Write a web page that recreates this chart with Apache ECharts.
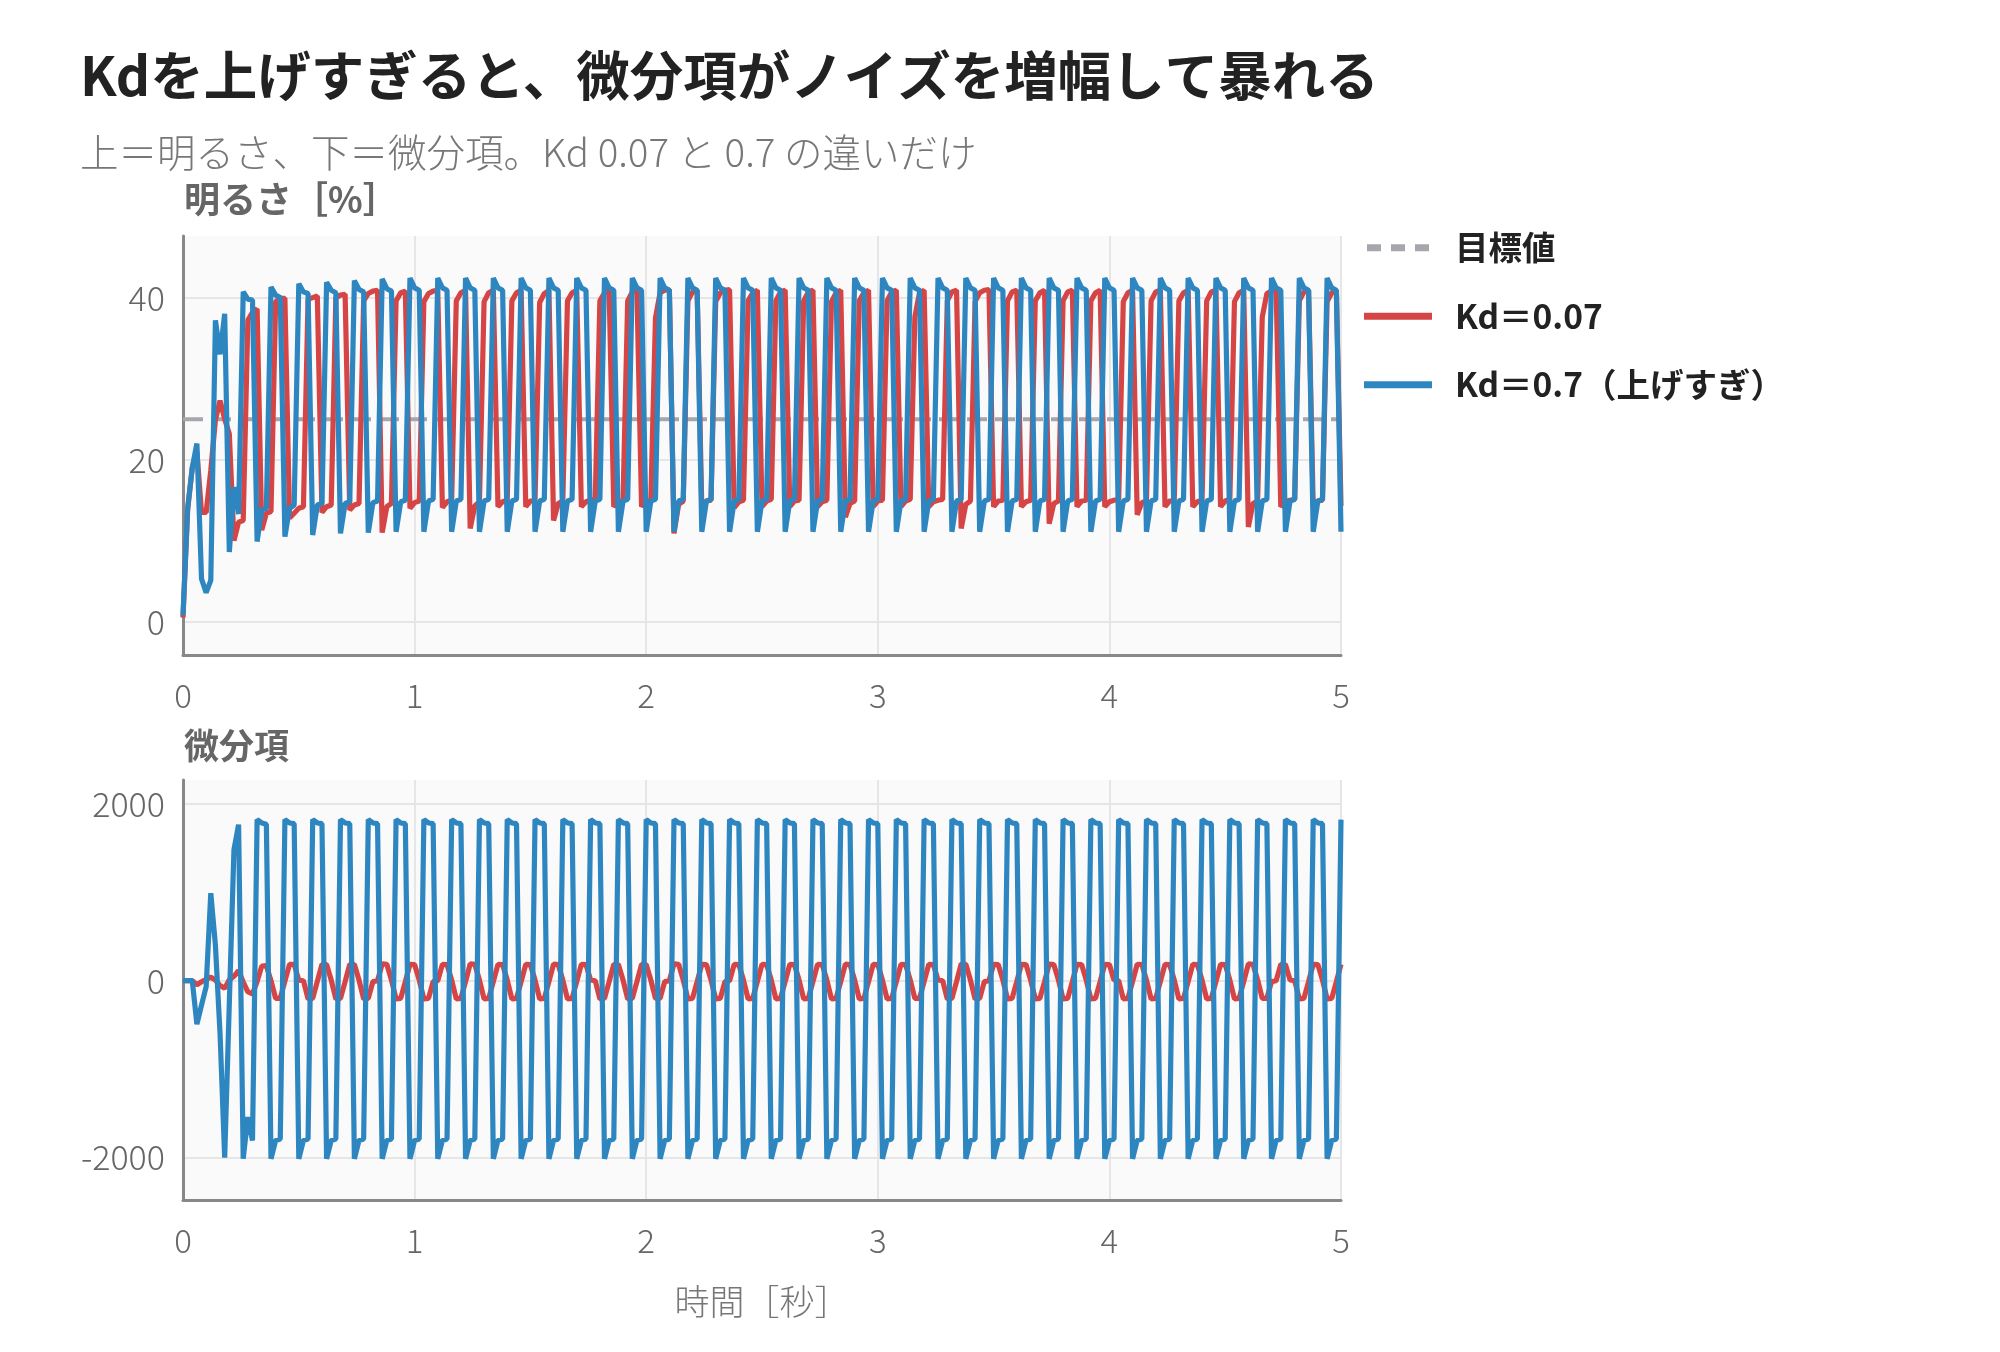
<!DOCTYPE html>
<html>
<head>
<meta charset="utf-8">
<script src="https://cdn.jsdelivr.net/npm/echarts@6/dist/echarts.min.js"></script>
<style>
  html, body { margin: 0; padding: 0; background: #fff; }
  #chart { width: 2000px; height: 1352px; }
</style>
</head>
<body>
<div id="chart"></div>
<script>
// sample step of the simulation [s], 251 samples = 0..5 s
var dt = 0.02;
var target = 25;
var xMax = 5;
var luxTicks = [0, 20, 40];
var dTicks = [-2000, 0, 2000];
var names = ['目標値', 'Kd＝0.07', 'Kd＝0.7（上げすぎ）'];

// brightness [%], Kd = 0.07
var redLux = [
  0.5, 13.8, 19.0, 21.0, 13.5, 13.5, 18.7, 24.9, 27.3, 25.0,
  23.2, 10.0, 12.3, 12.5, 37.2, 38.2, 38.6, 11.3, 13.4, 13.6,
  39.5, 39.9, 39.9, 12.8, 13.4, 14.0, 14.2, 39.8, 40.0, 40.2,
  13.5, 14.2, 14.4, 40.0, 40.3, 40.4, 13.8, 14.4, 14.6, 39.6,
  40.5, 40.8, 40.9, 11.0, 14.2, 14.6, 39.6, 40.6, 40.8, 14.0,
  14.7, 14.9, 39.5, 40.5, 40.8, 40.9, 14.1, 14.8, 15.0, 39.6,
  40.6, 40.9, 11.5, 14.3, 14.8, 39.5, 40.6, 40.9, 14.2, 14.8,
  15.0, 39.6, 40.6, 40.9, 14.2, 14.9, 15.0, 39.4, 40.5, 40.9,
  12.5, 14.6, 14.9, 39.6, 40.6, 40.9, 14.2, 14.8, 15.0, 15.1,
  39.6, 40.6, 40.9, 14.2, 14.8, 15.0, 39.6, 40.7, 40.9, 14.2,
  14.9, 15.0, 37.5, 40.6, 40.9, 41.0, 10.9, 14.5, 14.9, 39.6,
  40.7, 40.9, 14.2, 14.9, 15.0, 39.5, 40.6, 40.9, 41.0, 14.1,
  14.8, 15.0, 39.6, 40.6, 40.9, 14.2, 14.9, 15.1, 39.6, 40.7,
  40.9, 14.2, 14.9, 15.0, 39.6, 40.7, 40.9, 14.2, 14.8, 15.0,
  39.5, 40.6, 40.9, 12.9, 14.6, 14.9, 39.6, 40.6, 40.9, 14.2,
  14.9, 15.0, 39.6, 40.7, 40.9, 14.2, 14.9, 15.1, 37.6, 40.6,
  40.9, 14.2, 14.8, 15.0, 15.1, 39.6, 40.7, 40.9, 11.5, 14.5,
  14.9, 39.5, 40.6, 40.9, 41.0, 14.2, 14.9, 15.0, 39.6, 40.7,
  40.9, 14.2, 14.8, 15.0, 39.6, 40.6, 40.9, 12.1, 14.6, 14.9,
  39.6, 40.7, 40.9, 14.2, 14.9, 15.0, 39.6, 40.6, 40.9, 14.2,
  14.8, 15.0, 15.1, 39.5, 40.6, 40.9, 13.2, 14.7, 14.9, 39.6,
  40.7, 40.9, 14.2, 14.9, 15.0, 39.6, 40.6, 40.9, 14.2, 14.8,
  15.0, 39.6, 40.7, 40.9, 14.2, 14.9, 15.1, 39.5, 40.6, 40.9,
  11.7, 14.6, 14.9, 37.6, 40.5, 40.8, 41.0, 14.2, 14.8, 15.0,
  15.1, 39.6, 40.7, 40.9, 14.2, 14.9, 15.0, 39.5, 40.6, 40.9,
  14.3
];

// brightness [%], Kd = 0.7
var blueLux = [
  0.8, 14.0, 19.0, 22.0, 5.3, 3.6, 5.1, 37.2, 33.0, 38.0, 8.6, 16.6, 13.3,
  40.7, 39.8, 39.7, 9.9, 13.8, 14.0,
  41.3, 40.3, 40.0, 10.5, 14.0, 14.4,
  41.7, 40.7, 40.5, 10.7, 14.4, 14.6,
  41.9, 40.9, 40.6, 10.9, 14.6, 14.8,
  42.1, 41.0, 40.7, 11.0, 14.7, 14.9,
  42.3, 41.1, 40.8, 11.1, 14.8, 15.0,
  42.4, 41.2, 40.9, 11.1, 14.9, 15.1,
  42.4, 41.2, 40.9, 11.1, 14.9, 15.1,
  42.4, 41.2, 40.9, 11.1, 14.9, 15.1,
  42.4, 41.2, 40.9, 11.1, 14.9, 15.1,
  42.4, 41.2, 40.9, 11.1, 14.9, 15.1,
  42.4, 41.2, 40.9, 11.1, 14.9, 15.1,
  42.4, 41.2, 40.9, 11.1, 14.9, 15.1,
  42.4, 41.2, 40.9, 11.1, 14.9, 15.1,
  42.4, 41.2, 40.9, 11.1, 14.9, 15.1,
  42.4, 41.2, 40.9, 11.1, 14.9, 15.1,
  42.4, 41.2, 40.9, 11.1, 14.9, 15.1,
  42.4, 41.2, 40.9, 11.1, 14.9, 15.1,
  42.4, 41.2, 40.9, 11.1, 14.9, 15.1,
  42.4, 41.2, 40.9, 11.1, 14.9, 15.1,
  42.4, 41.2, 40.9, 11.1, 14.9, 15.1,
  42.4, 41.2, 40.9, 11.1, 14.9, 15.1,
  42.4, 41.2, 40.9, 11.1, 14.9, 15.1,
  42.4, 41.2, 40.9, 11.1, 14.9, 15.1,
  42.4, 41.2, 40.9, 11.1, 14.9, 15.1,
  42.4, 41.2, 40.9, 11.1, 14.9, 15.1,
  42.4, 41.2, 40.9, 11.1, 14.9, 15.1,
  42.4, 41.2, 40.9, 11.1, 14.9, 15.1,
  42.4, 41.2, 40.9, 11.1, 14.9, 15.1,
  42.4, 41.2, 40.9, 11.1, 14.9, 15.1,
  42.4, 41.2, 40.9, 11.1, 14.9, 15.1,
  42.4, 41.2, 40.9, 11.1, 14.9, 15.1,
  42.4, 41.2, 40.9, 11.1, 14.9, 15.1,
  42.4, 41.2, 40.9, 11.1, 14.9, 15.1,
  42.4, 41.2, 40.9, 11.1, 14.9, 15.1,
  42.4, 41.2, 40.9, 11.1, 14.9, 15.1,
  42.4, 41.2, 40.9, 11.1, 14.9, 15.1,
  42.4, 41.2, 40.9, 11.1, 14.9, 15.1,
  42.4, 41.2, 40.9, 11.1, 14.9, 15.1,
  42.4, 41.2, 40.9, 11.1
];

// derivative term, Kd = 0.07
var redD = [
  0, 0, 0, -45, -12, 15, 40, 8, -55, -85,
  10, 50, 115, -15, -125, -150, -10, 165, 170, 0,
  -200, -200, -5, 185, 185, 5, 0, -205, -200, -8,
  185, 182, 8, -205, -200, -10, 185, 182, 8, -205,
  -200, -10, 0, 190, 185, 8, -205, -200, -10, 185,
  182, 8, -205, -200, -10, 0, 185, 182, 8, -205,
  -200, -10, 190, 185, 8, -205, -200, -10, 185, 182,
  8, -205, -200, -10, 185, 182, 8, -205, -200, -10,
  188, 183, 8, -205, -200, -10, 185, 182, 8, 0,
  -205, -200, -10, 185, 182, 8, -205, -200, -10, 185,
  182, 8, -200, -200, -10, 0, 190, 185, 8, -205,
  -200, -10, 185, 182, 8, -205, -200, -10, 0, 185,
  182, 8, -205, -200, -10, 185, 182, 8, -205, -200,
  -10, 185, 182, 8, -205, -200, -10, 185, 182, 8,
  -205, -200, -10, 188, 183, 8, -205, -200, -10, 185,
  182, 8, -205, -200, -10, 185, 182, 8, -200, -200,
  -10, 185, 182, 8, 0, -205, -200, -10, 190, 185,
  8, -205, -200, -10, 0, 185, 182, 8, -205, -200,
  -10, 185, 182, 8, -205, -200, -10, 188, 183, 8,
  -205, -200, -10, 185, 182, 8, -205, -200, -10, 185,
  182, 8, 0, -205, -200, -10, 186, 182, 8, -205,
  -200, -10, 185, 182, 8, -205, -200, -10, 185, 182,
  8, -205, -200, -10, 185, 182, 8, -205, -200, -10,
  190, 185, 8, -200, -200, -10, 0, 185, 182, 8,
  0, -205, -200, -10, 185, 182, 8, -205, -200, -10,
  185
];

// derivative term, Kd = 0.7
var blueD = [
  0, 0, 0, -491, -276, -68, 990, 400, -600, -2000, -250, 1481, 1765,
  -2014, -1542, -1806, 1822, 1784, 1770,
  -2014, -1806, -1790, 1822, 1784, 1776,
  -2014, -1806, -1790, 1822, 1784, 1776,
  -2014, -1806, -1790, 1822, 1784, 1776,
  -2014, -1806, -1790, 1822, 1784, 1776,
  -2014, -1806, -1790, 1822, 1784, 1776,
  -2014, -1806, -1790, 1822, 1784, 1776,
  -2014, -1806, -1790, 1822, 1784, 1776,
  -2014, -1806, -1790, 1822, 1784, 1776,
  -2014, -1806, -1790, 1822, 1784, 1776,
  -2014, -1806, -1790, 1822, 1784, 1776,
  -2014, -1806, -1790, 1822, 1784, 1776,
  -2014, -1806, -1790, 1822, 1784, 1776,
  -2014, -1806, -1790, 1822, 1784, 1776,
  -2014, -1806, -1790, 1822, 1784, 1776,
  -2014, -1806, -1790, 1822, 1784, 1776,
  -2014, -1806, -1790, 1822, 1784, 1776,
  -2014, -1806, -1790, 1822, 1784, 1776,
  -2014, -1806, -1790, 1822, 1784, 1776,
  -2014, -1806, -1790, 1822, 1784, 1776,
  -2014, -1806, -1790, 1822, 1784, 1776,
  -2014, -1806, -1790, 1822, 1784, 1776,
  -2014, -1806, -1790, 1822, 1784, 1776,
  -2014, -1806, -1790, 1822, 1784, 1776,
  -2014, -1806, -1790, 1822, 1784, 1776,
  -2014, -1806, -1790, 1822, 1784, 1776,
  -2014, -1806, -1790, 1822, 1784, 1776,
  -2014, -1806, -1790, 1822, 1784, 1776,
  -2014, -1806, -1790, 1822, 1784, 1776,
  -2014, -1806, -1790, 1822, 1784, 1776,
  -2014, -1806, -1790, 1822, 1784, 1776,
  -2014, -1806, -1790, 1822, 1784, 1776,
  -2014, -1806, -1790, 1822, 1784, 1776,
  -2014, -1806, -1790, 1822, 1784, 1776,
  -2014, -1806, -1790, 1822, 1784, 1776,
  -2014, -1806, -1790, 1822, 1784, 1776,
  -2014, -1806, -1790, 1822, 1784, 1776,
  -2014, -1806, -1790, 1822, 1784, 1776,
  -2014, -1806, -1790, 1822, 1784, 1776,
  -2014, -1806, -1790, 1822
];

var FONT = '"Noto Sans CJK JP", "Noto Sans", sans-serif';
var RED = '#d64545';
var BLUE = '#2e86c1';
var GREY = '#a6a6ac';

function toPairs(arr) {
  return arr.map(function (v, i) { return [Math.round(i * dt * 100) / 100, v]; });
}

var chart = echarts.init(document.getElementById('chart'), null, {renderer: 'canvas'});

function xAxisOf(gridIndex) {
  return {
    type: 'value', gridIndex: gridIndex, min: 0, max: xMax, interval: 1,
    axisLine: {show: true, onZero: false, lineStyle: {color: '#888', width: 3}},
    axisTick: {show: false},
    axisLabel: {color: '#666', fontSize: 33, fontWeight: 300, fontFamily: FONT, margin: 24},
    splitLine: {show: true, lineStyle: {color: '#e6e6e6', width: 2}}
  };
}

function yAxisOf(gridIndex, lo, hi, ticks) {
  return {
    type: 'value', gridIndex: gridIndex, min: lo, max: hi,
    axisLine: {show: true, onZero: false, lineStyle: {color: '#888', width: 3}},
    axisTick: {show: false, customValues: ticks},
    axisLabel: {
      color: '#666', fontSize: 34, fontWeight: 300, fontFamily: FONT, margin: 18,
      customValues: ticks,
      formatter: function (v) { return String(v); }
    },
    splitLine: {show: true, lineStyle: {color: '#e6e6e6', width: 2}}
  };
}

function line(name, data, color, xi, width, dash) {
  return {
    name: name, type: 'line', xAxisIndex: xi, yAxisIndex: xi,
    data: toPairs(data), symbol: 'none', showSymbol: false,
    lineStyle: {color: color, width: width, type: dash || 'solid'},
    itemStyle: {color: color},
    emphasis: {disabled: true}, silent: true
  };
}

var targetLine = redLux.map(function () { return target; });

chart.setOption({
  backgroundColor: '#fff',
  animation: false,
  title: [
    {text: 'Kdを上げすぎると、微分項がノイズを増幅して暴れる', left: 80, top: 49, padding: 0,
      textStyle: {fontFamily: FONT, fontSize: 53.5, fontWeight: 'bold', color: '#222'}},
    {text: '上＝明るさ、下＝微分項。Kd 0.07 と 0.7 の違いだけ', left: 80, top: 133, padding: 0,
      textStyle: {fontFamily: FONT, fontSize: 38.5, fontWeight: 300, color: '#777'}},
    {text: '明るさ［%］', left: 184, top: 181, padding: 0,
      textStyle: {fontFamily: FONT, fontSize: 36, fontWeight: 'bold', color: '#666'}},
    {text: '微分項', left: 184, top: 728, padding: 0,
      textStyle: {fontFamily: FONT, fontSize: 35, fontWeight: 'bold', color: '#666'}},
    {text: '時間［秒］', left: 762, textAlign: 'center', top: 1284, padding: 0,
      textStyle: {fontFamily: FONT, fontSize: 35, fontWeight: 300, color: '#777'}}
  ],
  legend: {
    orient: 'vertical', left: 1364, top: 231, padding: 0,
    itemWidth: 68, itemHeight: 7, itemGap: 35,
    data: [
      {name: names[0], icon: 'path://M0,0h14v7h-14zM24,0h14v7h-14zM48,0h14v7h-14z'},
      {name: names[1], icon: 'rect'},
      {name: names[2], icon: 'rect'}
    ],
    textStyle: {fontFamily: FONT, fontSize: 33.5, fontWeight: 'bold', color: '#222', padding: [0, 0, 0, 18]},
    selectedMode: false
  },
  grid: [
    {left: 183, top: 236, width: 1158, height: 419, show: true, backgroundColor: '#fafafa', borderWidth: 0},
    {left: 183, top: 780, width: 1158, height: 420, show: true, backgroundColor: '#fafafa', borderWidth: 0}
  ],
  xAxis: [xAxisOf(0), xAxisOf(1)],
  yAxis: [yAxisOf(0, -4.1, 47.6, luxTicks), yAxisOf(1, -2480, 2270, dTicks)],
  series: [
    line(names[0], targetLine, GREY, 0, 4, [20, 8]),
    line(names[1], redLux, RED, 0, 5.2),
    line(names[2], blueLux, BLUE, 0, 5.2),
    line(names[1], redD, RED, 1, 5.2),
    line(names[2], blueD, BLUE, 1, 5.2)
  ]
});
</script>
</body>
</html>
